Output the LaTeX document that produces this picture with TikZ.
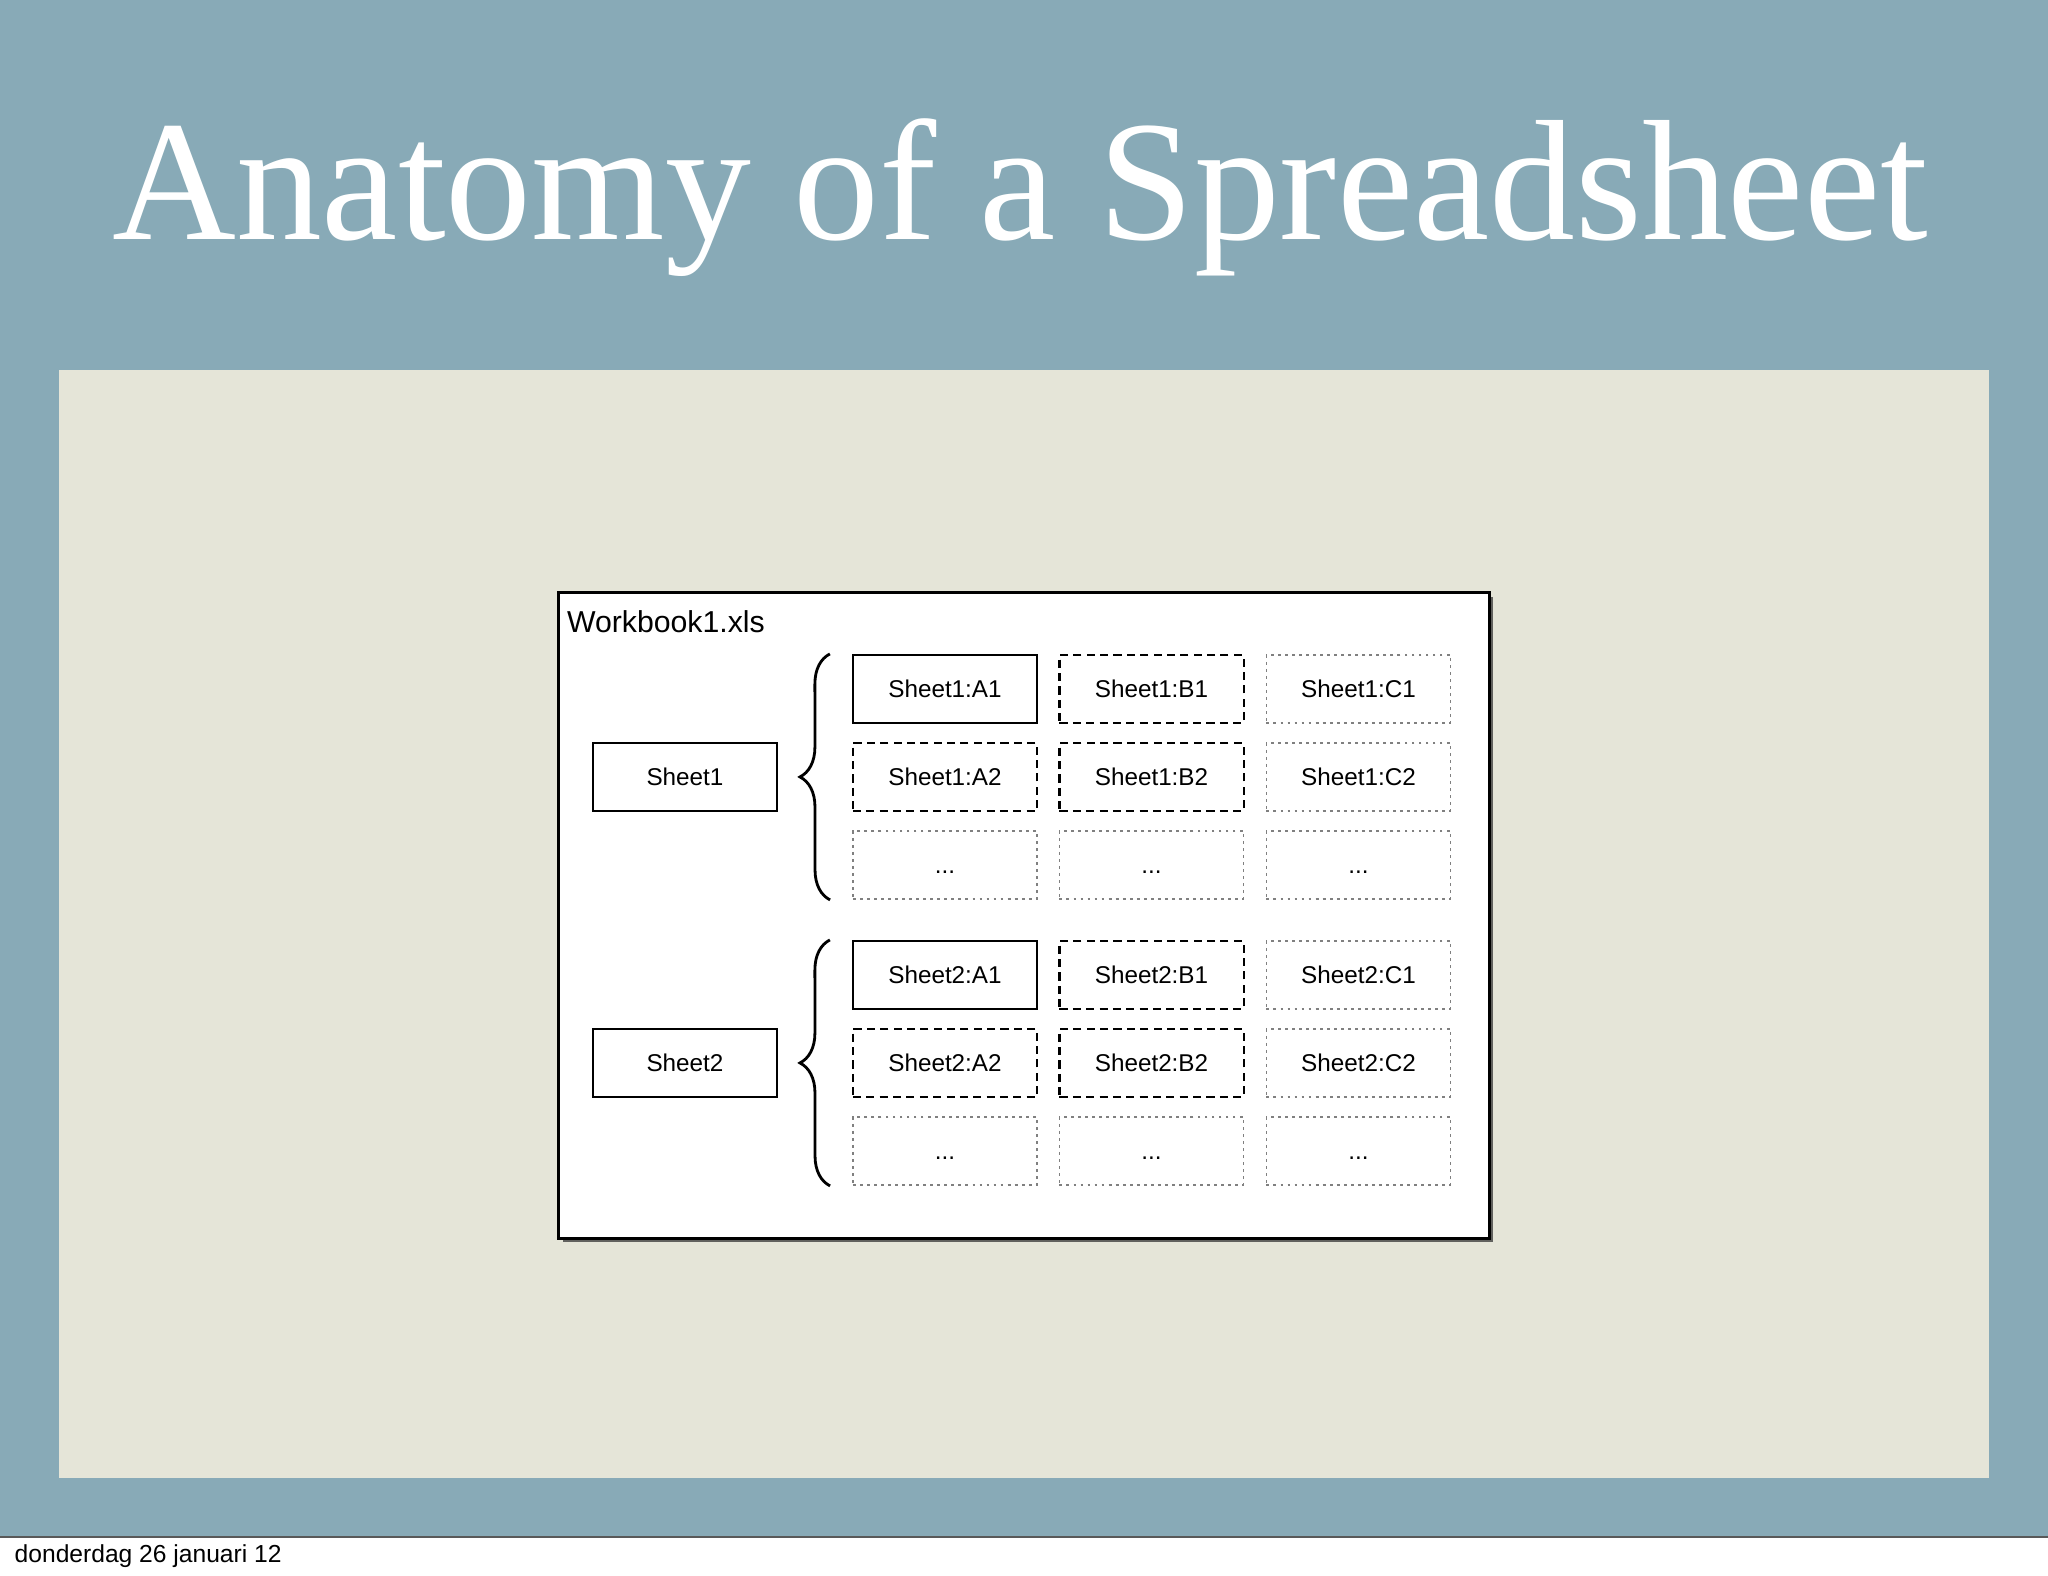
\documentclass[tikz,border=0pt]{standalone}
\usepackage{fontspec}
\setmainfont{Liberation Sans}
\newfontfamily\titlefont{Liberation Serif}
\usetikzlibrary{positioning,decorations.pathreplacing,shadows}

\definecolor{slide}{RGB}{136,170,183}
\definecolor{canvas}{RGB}{229,229,216}

\begin{document}
\begin{tikzpicture}[x=0.01cm, y=-0.01cm,
   cell/.style={rectangle, minimum width=1.84cm, minimum height=0.68cm, inner sep=0pt, text height=5pt, text depth=0pt, font=\fontsize{6.9}{8}\selectfont},
   solidcell/.style={draw, line width=0.6pt},
   dashedcell/.style={draw, line width=0.6pt, dash pattern=on 2.3pt off 1.5pt},
   dottedcell/.style={draw=black!50, line width=0.5pt, dash pattern=on 0.8pt off 1.2pt},
   sheetbrace/.style={decorate, decoration={brace, amplitude=0.3cm}, line width=0.8pt}]
   \useasboundingbox (0,0) rectangle (2048,1576);

   % slide background
   \fill[slide] (0,0) rectangle (2048,1537);
   \draw[black!65, line width=0.8pt] (0,1537) -- (2048,1537);
   \fill[canvas] (59,370) rectangle (1989,1478);

   \node (title) at (1020,240) [anchor=base, text=white, font=\titlefont\fontsize{48.8}{58}\selectfont] {Anatomy of a Spreadsheet};
   \node (date) at (14,1562) [anchor=base west, inner sep=0pt, font=\fontsize{7}{8}\selectfont] {donderdag 26 januari 12};

   % workbook
   \node (book) at (1024,915.5) [draw, line width=0.8pt, fill=white, minimum width=9.3cm, minimum height=6.45cm,
      drop shadow={shadow xshift=0.04cm, shadow yshift=-0.04cm, fill=black!75, opacity=0.8}] {};
   \node (booklabel) [anchor=base west, inner sep=0pt, font=\fontsize{8.6}{9}\selectfont]
      at ([xshift=0.09cm, yshift=-0.41cm]book.north west) {Workbook1.xls};

   % sheet 1
   \node (s1) at (685,777) [cell, solidcell] {Sheet1};
   \node (s1a1) at (945,689) [cell, solidcell] {Sheet1:A1};
   \node (s1b1) at (1151.5,689) [cell, dashedcell] {Sheet1:B1};
   \node (s1c1) at (1358.5,689) [cell, dottedcell] {Sheet1:C1};
   \node (s1a2) at (945,777) [cell, dashedcell] {Sheet1:A2};
   \node (s1b2) at (1151.5,777) [cell, dashedcell] {Sheet1:B2};
   \node (s1c2) at (1358.5,777) [cell, dottedcell] {Sheet1:C2};
   \node (s1a3) at (945,865) [cell, dottedcell] {...};
   \node (s1b3) at (1151.5,865) [cell, dottedcell] {...};
   \node (s1c3) at (1358.5,865) [cell, dottedcell] {...};
   \draw[sheetbrace] ([xshift=-0.22cm]s1a3.south west) -- ([xshift=-0.22cm]s1a1.north west);

   % sheet 2
   \node (s2) at (685,1063) [cell, solidcell] {Sheet2};
   \node (s2a1) at (945,975) [cell, solidcell] {Sheet2:A1};
   \node (s2b1) at (1151.5,975) [cell, dashedcell] {Sheet2:B1};
   \node (s2c1) at (1358.5,975) [cell, dottedcell] {Sheet2:C1};
   \node (s2a2) at (945,1063) [cell, dashedcell] {Sheet2:A2};
   \node (s2b2) at (1151.5,1063) [cell, dashedcell] {Sheet2:B2};
   \node (s2c2) at (1358.5,1063) [cell, dottedcell] {Sheet2:C2};
   \node (s2a3) at (945,1151) [cell, dottedcell] {...};
   \node (s2b3) at (1151.5,1151) [cell, dottedcell] {...};
   \node (s2c3) at (1358.5,1151) [cell, dottedcell] {...};
   \draw[sheetbrace] ([xshift=-0.22cm]s2a3.south west) -- ([xshift=-0.22cm]s2a1.north west);
\end{tikzpicture}
\end{document}
